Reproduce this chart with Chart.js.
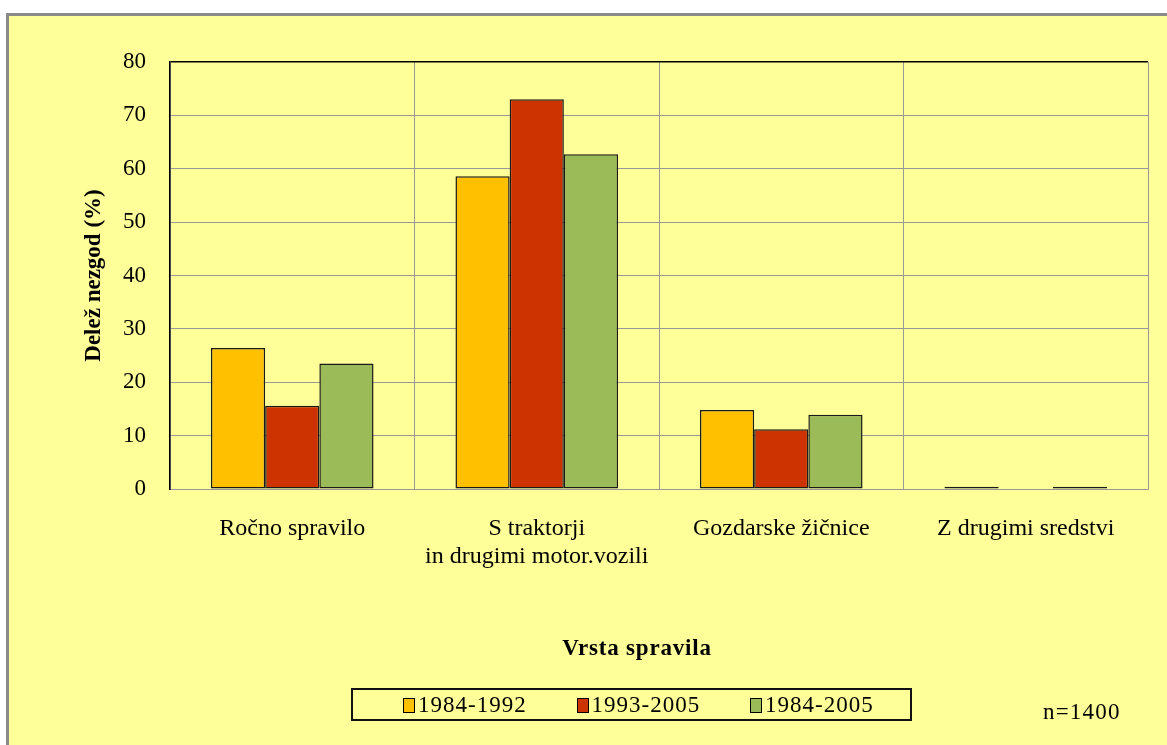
<!DOCTYPE html>
<html>
<head>
<meta charset="utf-8">
<script src="https://cdn.jsdelivr.net/npm/chart.js@4.4.1/dist/chart.umd.min.js"></script>
<style>
  body { margin: 0; background: #fff; overflow: hidden; width: 1167px; height: 745px; position: relative; }
  #frame { position: absolute; left: 6px; top: 13px; width: 1200px; height: 800px;
           background: #FFFF99; border-top: 3px solid #8a8a8a; border-left: 3px solid #8a8a8a; }
  #chart { position: absolute; left: 0; top: 0; }
  .txt { position: absolute; font-family: "Liberation Serif", "Times New Roman", serif; font-size: 23px; color: #000; white-space: nowrap; }
  #xtitle { font-weight: bold; left: 437px; width: 400px; text-align: center; top: 634px; line-height: 28px; letter-spacing: 0.8px; }
  #legend { position: absolute; left: 351px; top: 688px; width: 557px; height: 29px; border: 2px solid #111;
            font-family: "Liberation Serif", "Times New Roman", serif; font-size: 23px; letter-spacing: 1px; }
  #legend .item { position: absolute; top: 0; height: 29px; line-height: 29px; }
  #legend .box { display: inline-block; width: 10px; height: 13px; border: 1px solid #000; margin-right: 3px; vertical-align: -1px; }
  #ncount { left: 1043px; top: 699px; line-height: 26px; letter-spacing: 1.2px; }
</style>
</head>
<body>
<div id="frame"></div>
<canvas id="chart" width="1167" height="745"></canvas>
<div id="xtitle" class="txt">Vrsta spravila</div>
<div id="legend"></div>
<div id="ncount" class="txt">n=1400</div>
<script>
// categories (x axis)
const categories = [
    'Ročno spravilo',
    ['S traktorji', 'in drugimi motor.vozili'],
    'Gozdarske žičnice',
    'Z drugimi sredstvi'
];

// series: accident share (%) per period
const seriesNames = ['1984-1992', '1993-2005', '1984-2005'];
const values1984_1992 = [26.4, 58.6, 14.8, 0.4];
const values1993_2005 = [15.6, 73.0, 11.2, 0];
const values1984_2005 = [23.5, 62.7, 13.9, 0.4];
const seriesColors = ['#FFC000', '#CC3300', '#9BBB59'];

// y axis ticks
const yMin = 0;
const yMax = 80;
const yStep = 10;

const serifFont = '"Liberation Serif", "Times New Roman", serif';

document.addEventListener('DOMContentLoaded', function() {
    const seriesValues = [values1984_1992, values1993_2005, values1984_2005];

    const datasets = seriesNames.map(function(name, i) {
        return {
            label: name,
            data: seriesValues[i],
            backgroundColor: seriesColors[i],
            borderColor: '#1a1a1a',
            borderWidth: 1.5,
            borderSkipped: false,
            categoryPercentage: 0.665,
            barPercentage: 1.0
        };
    });

    const ctx = document.getElementById('chart').getContext('2d');
    new Chart(ctx, {
        type: 'bar',
        data: { labels: categories, datasets: datasets },
        options: {
            responsive: false,
            animation: false,
            layout: { padding: { left: 80, top: 62, right: 19, bottom: 156 } },
            plugins: {
                legend: { display: false },
                tooltip: { enabled: false }
            },
            scales: {
                x: {
                    afterFit: function(scale) { scale.height = 100; },
                    grid: {
                        drawTicks: false,
                        color: function(c) { return c.index === categories.length ? '#000' : '#999'; },
                        lineWidth: function(c) { return c.index === categories.length ? 1.5 : 1; }
                    },
                    border: { color: '#999', width: 1 },
                    ticks: {
                        color: '#000',
                        padding: 25,
                        maxRotation: 0,
                        autoSkip: false,
                        font: { family: serifFont, size: 24, lineHeight: 1.2 }
                    }
                },
                y: {
                    min: yMin,
                    max: yMax,
                    afterFit: function(scale) { scale.width = 90; },
                    grid: {
                        drawTicks: false,
                        color: function(c) { return c.tick && c.tick.value === yMax ? '#000' : '#999'; },
                        lineWidth: function(c) { return c.tick && c.tick.value === yMax ? 1.5 : 1; }
                    },
                    border: { color: '#000', width: 1.5 },
                    ticks: {
                        stepSize: yStep,
                        color: '#000',
                        padding: 24,
                        font: { family: serifFont, size: 23 }
                    },
                    title: {
                        display: true,
                        text: 'Delež nezgod (%)',
                        color: '#000',
                        padding: 0,
                        font: { family: serifFont, size: 23, weight: 'bold', lineHeight: 1.2 }
                    }
                }
            }
        }
    });

    // Legend box built from the series arrays
    const legend = document.getElementById('legend');
    seriesNames.forEach(function(name, i) {
        const item = document.createElement('div');
        item.className = 'item';
        item.style.left = (50 + i * 173.5) + 'px';
        const box = document.createElement('span');
        box.className = 'box';
        box.style.background = seriesColors[i];
        item.appendChild(box);
        item.appendChild(document.createTextNode(name));
        legend.appendChild(item);
    });
});
</script>
</body>
</html>
